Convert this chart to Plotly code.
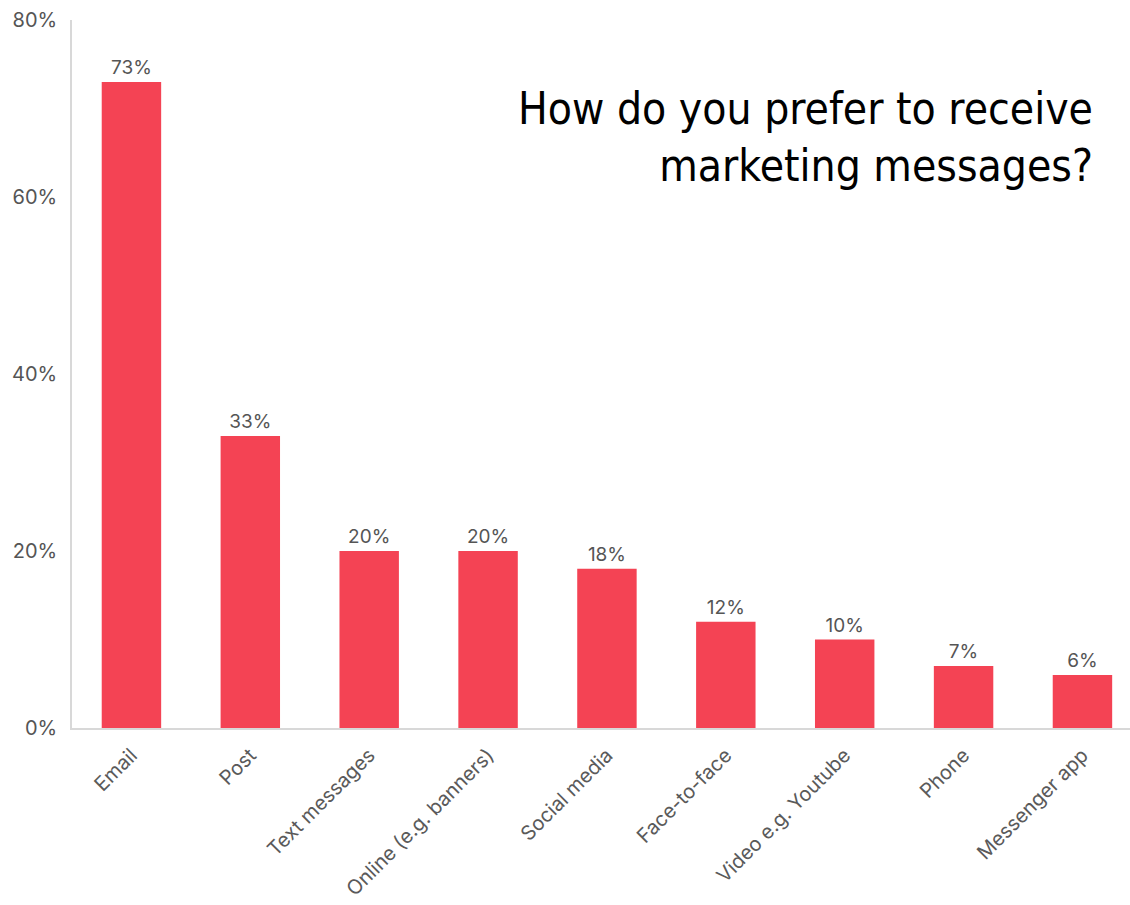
import plotly.graph_objects as go

categories = ["Email", "Post", "Text messages", "Online (e.g. banners)", "Social media",
              "Face-to-face", "Video e.g. Youtube", "Phone", "Messenger app"]
values = [73, 33, 20, 20, 18, 12, 10, 7, 6]
y_ticks = [0, 20, 40, 60, 80]
y_tick_labels = ["0%", "20%", "40%", "60%", "80%"]
title_text = "How do you prefer to receive<br>marketing messages?"

fig = go.Figure(go.Bar(
    x=categories, y=values,
    text=[f"{v}%" for v in values],
    marker=dict(color="#F44354", line=dict(width=0)),
    width=0.5,
    texttemplate="%{text}", textposition="outside", cliponaxis=False,
    textfont=dict(family="Inter, Lato, sans-serif", size=19, color="#555555"),
))

fig.update_layout(
    width=1130, height=905,
    margin=dict(l=72, r=0, t=20, b=177),
    paper_bgcolor="white", plot_bgcolor="white",
    showlegend=False,
    font=dict(family="Inter, Lato, sans-serif", color="#555555", size=19),
    xaxis=dict(
        range=[-0.5, 8.4], tickangle=-45, showgrid=False, automargin=False,
        showline=True, linecolor="#D8D8D8", linewidth=1.5, ticks="",
        ticklabelstandoff=6,
        tickfont=dict(size=20, color="#5a5a5a"),
    ),
    yaxis=dict(
        range=[0, 80], tickvals=y_ticks, ticktext=y_tick_labels, showgrid=False,
        automargin=False,
        showline=True, linecolor="#D8D8D8", linewidth=1.5, ticks="",
        zeroline=False, ticklabelstandoff=9,
        tickfont=dict(size=20, color="#555555"),
    ),
    annotations=[dict(
        text=title_text, xref="paper", yref="paper", x=0.967, y=0.835,
        xanchor="right", yanchor="middle", align="right", showarrow=False,
        font=dict(family="DejaVu Sans Condensed, Liberation Sans Narrow, Roboto, sans-serif",
                  size=44, color="#000000"),
    )],
)

fig.write_html("out.html")
